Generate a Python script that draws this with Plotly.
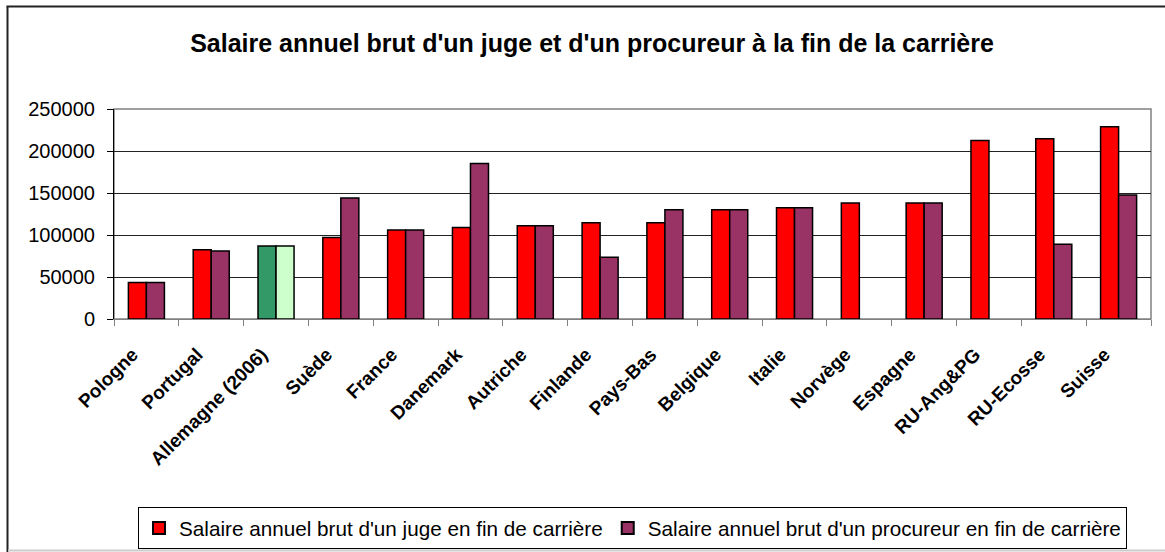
import plotly.graph_objects as go

countries = ["Pologne", "Portugal", "Allemagne (2006)", "Suède", "France", "Danemark",
             "Autriche", "Finlande", "Pays-Bas", "Belgique", "Italie", "Norvège",
             "Espagne", "RU-Ang&PG", "RU-Ecosse", "Suisse"]
juge = [43500, 82500, 87000, 97000, 106000, 109000, 111000, 114500, 114500, 130000,
        132500, 138000, 138000, 212500, 214500, 229000]
procureur = [43500, 81000, 87000, 144000, 106000, 185000, 111000, 73500, 130000, 130000,
             132500, None, 138000, None, 89000, 147500]

series_names = ["Salaire annuel brut d'un juge en fin de carrière",
                "Salaire annuel brut d'un procureur en fin de carrière"]
title_text = "Salaire annuel brut d'un juge et d'un procureur à la fin de la carrière"

RED = "#FF0000"
PURPLE = "#993366"
DGREEN = "#339966"
LGREEN = "#CCFFCC"

juge_colors = [DGREEN if c.startswith("Allemagne") else RED for c in countries]
proc_colors = [LGREEN if c.startswith("Allemagne") else PURPLE for c in countries]

FONT = "Arial, 'Liberation Sans', sans-serif"

fig = go.Figure()
fig.add_trace(go.Bar(x=countries, y=juge, name=series_names[0],
                     marker=dict(color=juge_colors, line=dict(color="black", width=1.5))))
fig.add_trace(go.Bar(x=countries, y=procureur, name=series_names[1],
                     marker=dict(color=proc_colors, line=dict(color="black", width=1.5))))

fig.update_layout(
    width=1165, height=552,
    margin=dict(l=114, r=14, t=109, b=233, autoexpand=False),
    paper_bgcolor="white", plot_bgcolor="white",
    barmode="group", bargap=0.444, bargroupgap=0,
    font=dict(family=FONT, color="black"),
    title=dict(text=title_text, x=592/1165, xanchor="center", xref="container",
               y=1-43/552, yanchor="middle", yref="container",
               font=dict(family=FONT, size=25, color="black", weight="bold")),
    showlegend=True,
    legend=dict(orientation="h", x=0.5, xanchor="center", y=-0.895, yanchor="top",
                bordercolor="black", borderwidth=1, bgcolor="white",
                font=dict(family=FONT, size=20.7, color="black"),
                itemsizing="constant", traceorder="normal"),
    xaxis=dict(type="category", tickson="boundaries", ticks="outside", ticklen=6,
               tickcolor="#808080", showline=True, linecolor="#808080", linewidth=1,
               showgrid=False, tickangle=-45, ticklabelshift=-14, ticklabelstandoff=16,
               tickfont=dict(family=FONT, size=19, color="black", weight="bold")),
    yaxis=dict(range=[0, 250000], dtick=50000, tickformat="d", ticks="outside", ticklen=6,
               tickcolor="black", showline=True, linecolor="black", linewidth=1,
               showgrid=True, gridcolor="#222222", gridwidth=1, zeroline=False,
               ticklabelstandoff=8,
               tickfont=dict(family=FONT, size=20, color="black")),
)

# plot-area border (gray) and outer chart border
fig.add_shape(type="rect", xref="paper", yref="paper", x0=0, y0=0, x1=1, y1=1,
              line=dict(color="#808080", width=1.5), layer="below")
px_x = lambda p: (p - 114) / 1037
px_y = lambda p: (319 - p) / 210
fig.add_shape(type="line", xref="paper", yref="paper", x0=px_x(7.5), y0=px_y(560),
              x1=px_x(7.5), y1=px_y(6.5), line=dict(color="#222222", width=2))
fig.add_shape(type="line", xref="paper", yref="paper", x0=px_x(6.5), y0=px_y(6.5),
              x1=px_x(1175), y1=px_y(6.5), line=dict(color="#222222", width=2))
fig.add_shape(type="line", xref="paper", yref="paper", x0=px_x(8), y0=px_y(550.5),
              x1=px_x(1175), y1=px_y(550.5), line=dict(color="#CCCCCC", width=2))

fig.write_html("out.html", config={"displayModeBar": False},
               post_script="document.body.style.margin='0';document.body.style.overflow='hidden';")
